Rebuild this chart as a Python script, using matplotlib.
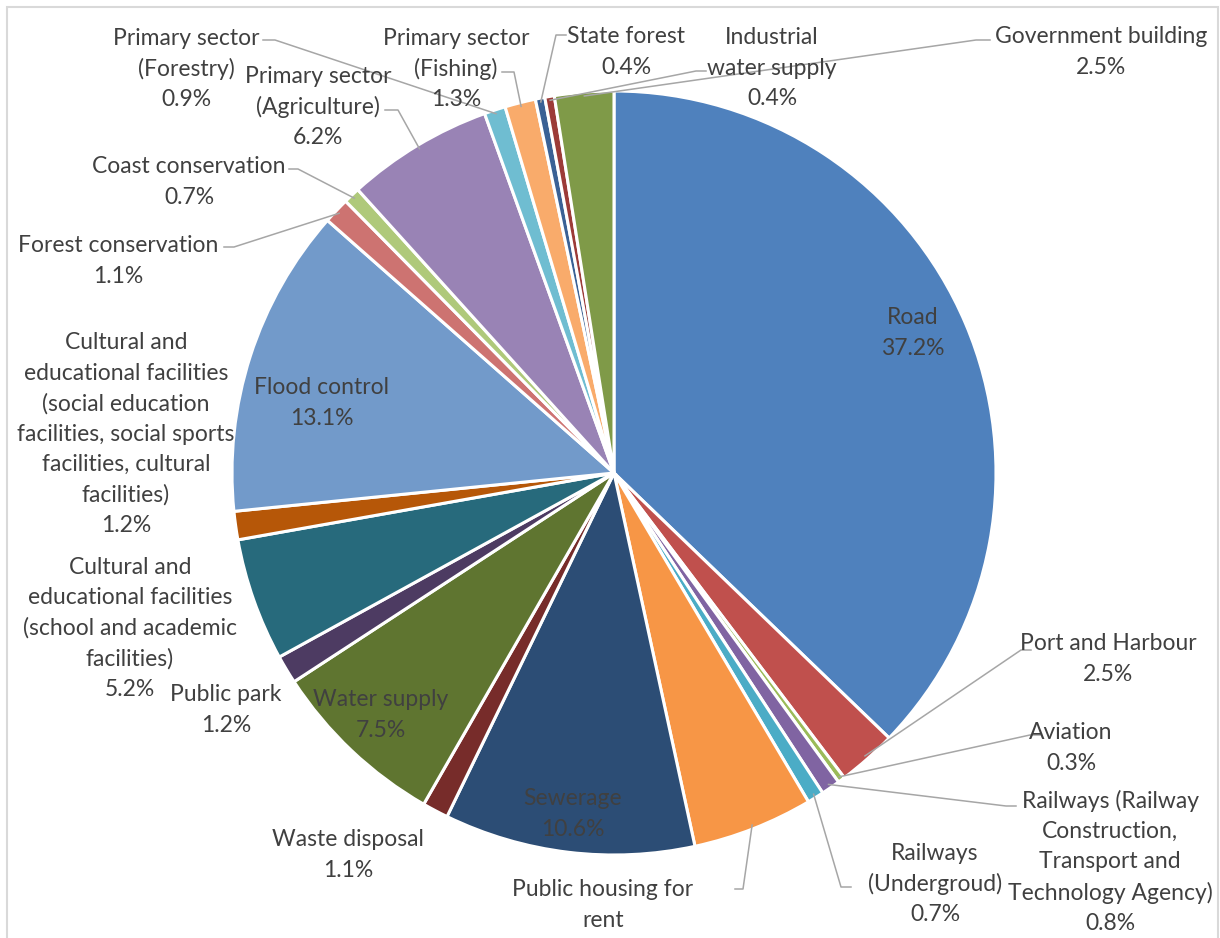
import matplotlib.pyplot as plt
from matplotlib.patches import Rectangle
import numpy as np

plt.rcParams['font.family'] = ['Lato', 'DejaVu Sans']

# data, clockwise from 12 o'clock
categories = [
    "Road", "Port and Harbour", "Aviation",
    "Railways (Railway\nConstruction,\nTransport and\nTechnology Agency)",
    "Railways\n(Undergroud)", "Public housing for\nrent", "Sewerage",
    "Waste disposal", "Water supply", "Public park",
    "Cultural and\neducational facilities\n(school and academic\nfacilities)",
    "Cultural and\neducational facilities\n(social education\nfacilities, social sports\nfacilities, cultural\nfacilities)",
    "Flood control", "Forest conservation", "Coast conservation",
    "Primary sector\n(Agriculture)", "Primary sector\n(Forestry)",
    "Primary sector\n(Fishing)", "State forest", "Industrial\nwater supply",
    "Government building",
]
shares = [37.2, 2.5, 0.3, 0.8, 0.7, 5.1, 10.6, 1.1, 7.5, 1.2, 5.2, 1.2,
          13.1, 1.1, 0.7, 6.2, 0.9, 1.3, 0.4, 0.4, 2.5]
colors = ["#4F81BD", "#C0504D", "#9BBB59", "#8064A2", "#4BACC6", "#F79646",
          "#2C4D75", "#772C2A", "#5F7530", "#4D3B62", "#276A7C", "#B65708",
          "#729ACA", "#CD7371", "#AFC97A", "#9983B5", "#6FBDD1", "#F9AB6B",
          "#3A6195", "#9C3B38", "#7F9A48"]
# the percentage of this one falls below the chart edge in the original
pct_cut_off = ["Public housing for\nrent"]

W, H = 1220, 938
cx, cy, R = 614, 473, 382
pitch = 30.5


def py(y):
    return H - y


# label layout in pixel coords: text centre, leader start, leader elbow
layout = [
    ((913, 331), None),
    ((1108, 657), [(1031, 650), (1021, 650)]),
    ((1071, 746), [(1040, 735), (1030, 735)]),
    ((1110, 860), [(1016, 806), (1006, 806)]),
    ((935, 882), [(851, 887), (841, 887)]),
    ((603, 903), [(735, 889), (743, 889)]),
    ((573, 812), None),
    ((348, 853), None),
    ((381, 713), None),
    ((226, 708), None),
    ((130, 626), None),
    ((126, 432), None),
    ((322, 401), None),
    ((118, 259), [(224, 247), (234, 247)]),
    ((189, 180), [(289, 169), (298, 169)]),
    ((318, 105), [(385, 110), (398, 110)]),
    ((186, 67), [(263, 40), (275, 40)]),
    ((456, 67), [(502, 72), (514, 72)]),
    ((626, 50), [(566, 35), (556, 35)]),
    ((772, 66), [(706, 71), (696, 71)]),
    ((1101, 50), [(990, 40), (976, 40)]),
]

fig = plt.figure(figsize=(W / 100, H / 100), dpi=100)
ax = fig.add_axes([0, 0, 1, 1])

wedges, _ = ax.pie(shares, colors=colors, startangle=90, counterclock=False,
                   center=(cx, py(cy)), radius=R,
                   wedgeprops=dict(edgecolor='white', linewidth=2.2))

for w, name, v, (tpos, lead) in zip(wedges, categories, shares, layout):
    lines = name.split("\n")
    if name not in pct_cut_off:
        lines.append(f"{v:.1f}%")
    y0 = tpos[1] - (len(lines) - 1) / 2 * pitch
    for i, line in enumerate(lines):
        ax.text(tpos[0], py(y0 + i * pitch), line, ha='center',
                va='center_baseline', fontsize=16.5, color='#404040')
    if lead:
        mid = np.deg2rad((w.theta1 + w.theta2) / 2)
        ex = cx + R * 0.99 * np.cos(mid)
        ey = py(cy) + R * 0.99 * np.sin(mid)
        xs = [lead[0][0], lead[1][0], ex]
        ys = [py(lead[0][1]), py(lead[1][1]), ey]
        ax.plot(xs, ys, color='#A6A6A6', lw=1.1)

ax.add_patch(Rectangle((7, py(950)), 1211, 943, fill=False,
                       edgecolor='#D9D9D9', lw=1.5))

ax.set_xlim(0, W)
ax.set_ylim(0, H)
ax.set_aspect('equal')
ax.axis('off')

fig.savefig('out.png', dpi=100)
